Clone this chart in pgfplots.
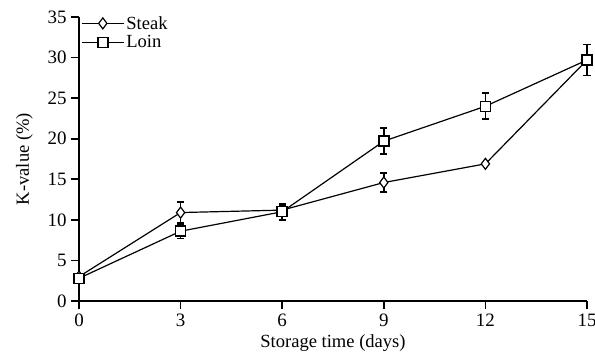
\documentclass[border=0pt]{standalone}
\usepackage{pgfplots}
\pgfplotsset{compat=1.18}
\usepackage{fontspec}
\setmainfont{Liberation Serif}

\pgfplotstableread{
x   y     e
0   3.0   0
3   10.9  1.3
6   11.2  0.6
9   14.6  1.2
12  16.9  0
15  29.7  0
}\steak

\pgfplotstableread{
x   y     e
0   2.8   0
3   8.6   0.9
6   11.0  1.0
9   19.7  1.6
12  24.0  1.6
15  29.7  1.9
}\loin

\begin{document}
\begin{tikzpicture}
\begin{axis}[
  at={(0,0)}, anchor=origin,
  scale only axis,
  width=508bp, height=284bp,
  xmin=0, xmax=15, ymin=0, ymax=35,
  xtick={0,3,...,15}, ytick={0,5,...,35},
  axis x line*=bottom, axis y line*=left,
  axis line style={line width=1.8bp, -},
  tick style={line width=1.8bp, black},
  tick align=outside,
  major tick length=8bp,
  /pgf/number format/assume math mode=true,
  tick label style={font=\fontsize{19}{22}\selectfont},
  xticklabel style={yshift=-1bp},
  yticklabel style={xshift=-1bp},
  label style={font=\fontsize{18.6}{22}\selectfont},
  xlabel={Storage time (days)},
  ylabel={K-value (\%)},
  xlabel style={yshift=-2bp},
  ylabel style={yshift=8bp},
  clip=false,
  legend style={draw=none, fill=none, at={(axis description cs:0,1)},
    anchor=north west, xshift=1bp, yshift=4bp,
    font=\fontsize{18.6}{21}\selectfont, inner sep=1bp,
    row sep=1bp,
    /tikz/every even column/.append style={column sep=0bp}},
  legend cell align=left,
  legend image code/.code={
    \draw[mark repeat=2, mark phase=2, #1]
      plot coordinates {(0bp,0bp) (21bp,0bp) (42bp,0bp)};
  },
  error bars/y dir=both, error bars/y explicit,
  error bars/error mark options={rotate=90, mark size=3.6bp, line width=1.6bp, black},
  error bars/error bar style={line width=1.6bp, black},
]
\addplot[black, line width=1.2bp, mark=diamond*, mark size=5.5bp,
  mark options={fill=white, draw=black, line width=1.2bp, solid}]
  table[x=x, y=y, y error=e] {\steak};
\addlegendentry{Steak}
\addplot[black, line width=1.2bp, mark=square*, mark size=5bp,
  mark options={fill=white, draw=black, line width=1.5bp, solid}]
  table[x=x, y=y, y error=e] {\loin};
\addlegendentry{Loin}
\end{axis}
\pgfresetboundingbox
\useasboundingbox (-79bp,-55bp) rectangle (516bp,301bp);
\end{tikzpicture}
\end{document}
